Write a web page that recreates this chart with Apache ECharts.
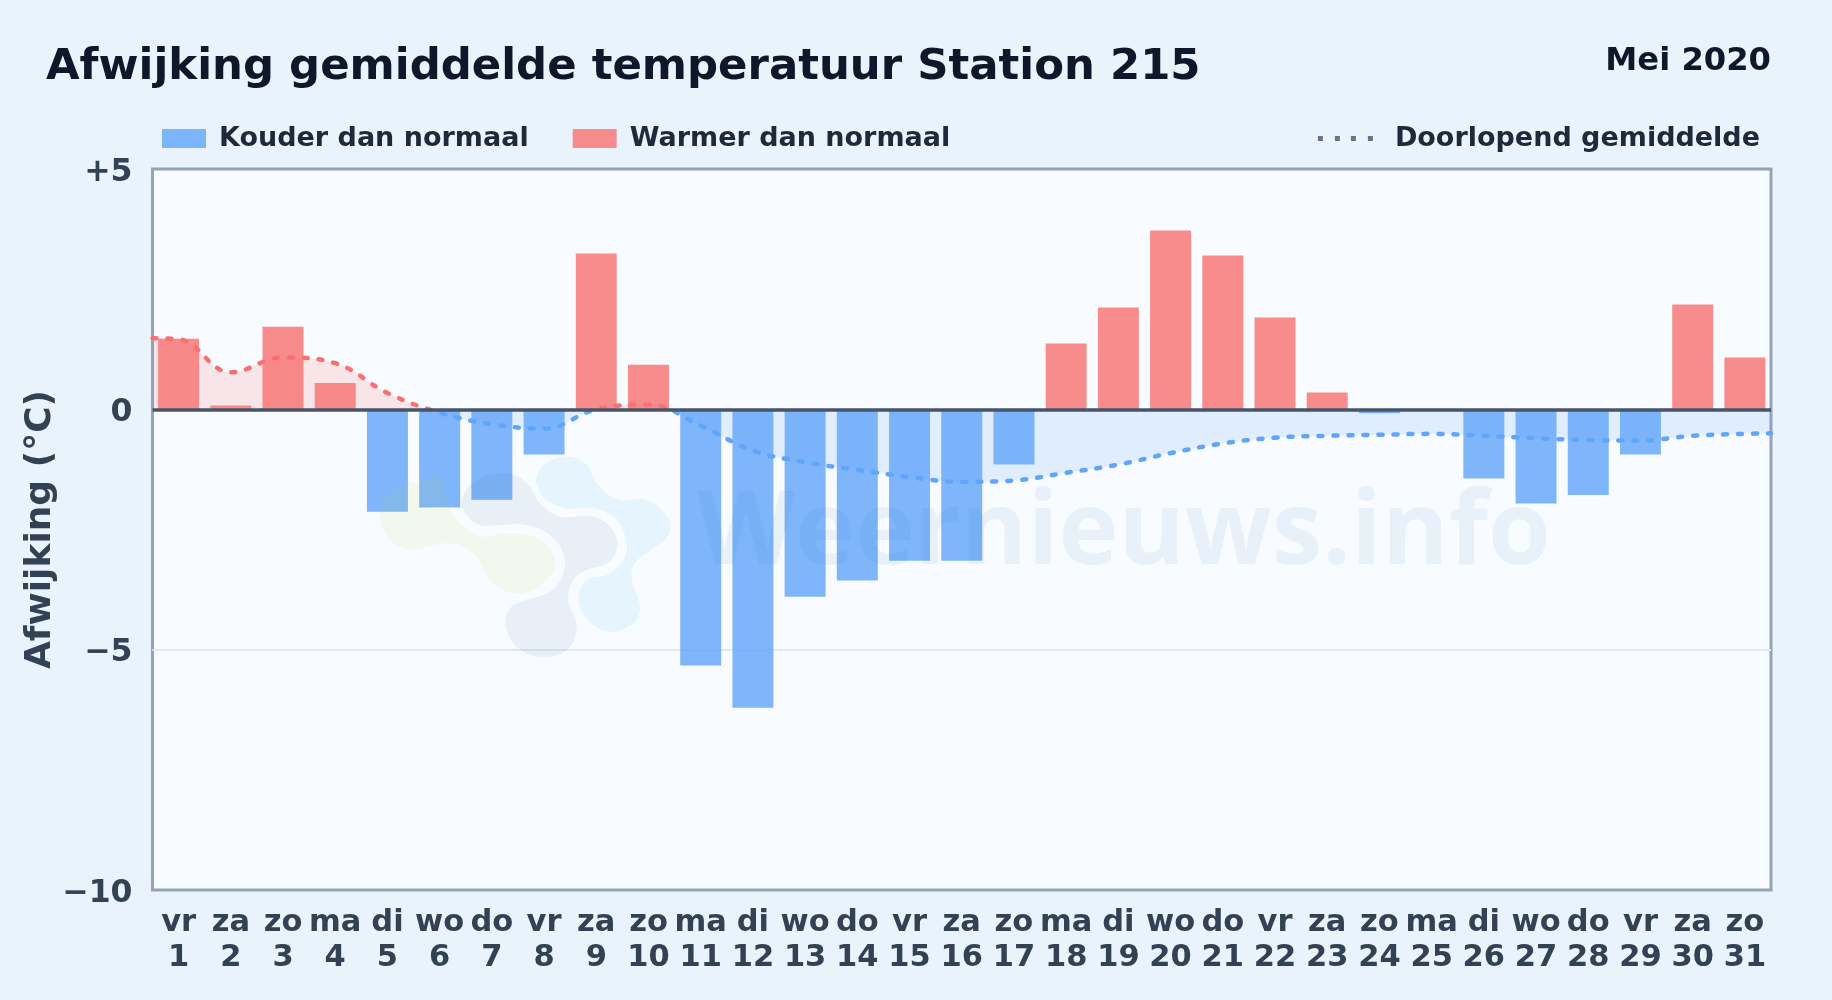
<!DOCTYPE html>
<html><head><meta charset="utf-8">
<style>html,body{margin:0;padding:0;background:#e9f3fc}#c{width:1832px;height:1000px}</style>
<script src="https://cdn.jsdelivr.net/npm/echarts@6/dist/echarts.min.js"></script>
</head><body><div id="c"></div>
<script>
const titleText = 'Afwijking gemiddelde temperatuur Station 215';
const periodText = 'Mei 2020';
const weekdays = ['vr','za','zo','ma','di','wo','do','vr','za','zo','ma','di','wo','do','vr','za','zo','ma','di','wo','do','vr','za','zo','ma','di','wo','do','vr','za','zo'];
const days = [1,2,3,4,5,6,7,8,9,10,11,12,13,14,15,16,17,18,19,20,21,22,23,24,25,26,27,28,29,30,31];
const deviation = [1.47,0.08,1.72,0.55,-2.13,-2.04,-1.88,-0.94,3.24,0.93,-5.33,-6.21,-3.90,-3.56,-3.15,-3.15,-1.15,1.37,2.12,3.72,3.20,1.91,0.35,-0.08,0,-1.44,-1.96,-1.78,-0.94,2.18,1.08];
const runningMean = [1.46,0.77,1.08,0.96,0.34,-0.07,-0.31,-0.40,0.00,0.10,-0.34,-0.86,-1.10,-1.26,-1.41,-1.51,-1.48,-1.32,-1.15,-0.91,-0.71,-0.59,-0.55,-0.53,-0.51,-0.55,-0.60,-0.64,-0.65,-0.55,-0.51];
const runningStart = 1.48, runningEnd = -0.50;
const yTicks = {'5':'+5','0':'0','-5':'−5','-10':'−10'};

const blobOlive = [[60,240],[130,325],[270,310],[340,340],[400,430],[480,460],[570,410],[582,350],[530,295],[440,280],[370,290],[300,250],[262,190],[240,110],[180,125],[100,150]];
const blobSlate = [[305,180],[350,120],[440,100],[500,130],[540,190],[600,230],[690,228],[750,260],[772,320],[740,370],[680,390],[640,420],[625,480],[650,560],[620,630],[540,650],[470,620],[438,560],[450,505],[500,480],[570,455],[610,400],[610,340],[570,285],[500,255],[420,255],[360,255],[320,225]];
const blobSky = [[530,110],[565,65],[630,50],[680,75],[710,130],[770,178],[860,180],[925,235],[925,285],[880,325],[825,370],[815,420],[840,500],[820,550],[755,575],[690,545],[655,480],[680,420],[740,405],[790,360],[800,310],[770,240],[700,205],[620,205],[560,180],[535,145]];

const FONT = '"DejaVu Sans"';
const chart = echarts.init(document.getElementById('c'));
const linePoints = [[0,runningStart]].concat(runningMean.map((v,i)=>[days[i]-0.5,v]),[[days.length,runningEnd]]);
const blob = (pts,fill)=>({type:'polygon',x:360,y:440,scaleX:1/3,scaleY:1/3,z:10,silent:true,shape:{points:pts,smooth:0.4},style:{fill:fill}});
chart.setOption({
  animation:false,
  backgroundColor:'#e9f3fc',
  textStyle:{fontFamily:FONT},
  title:[
    {text:titleText,left:46,top:46,padding:0,textStyle:{fontFamily:FONT,fontSize:43.4,fontWeight:'bold',color:'#0f172a'}},
    {text:periodText,right:61,top:46,padding:0,textStyle:{fontFamily:FONT,fontSize:32.2,fontWeight:'bold',color:'#0f172a'}}
  ],
  legend:[
    {left:162,top:125,padding:0,itemWidth:44,itemHeight:19,itemGap:44,icon:'rect',selectedMode:false,
     data:['Kouder dan normaal','Warmer dan normaal'],
     textStyle:{fontFamily:FONT,fontSize:27,fontWeight:'bold',color:'#1e293b',padding:[0,0,0,8]}},
    {right:72,top:125,padding:0,itemWidth:55,itemHeight:5,selectedMode:false,
     data:[{name:'Doorlopend gemiddelde',icon:'path://M0 0H5V5H0ZM17 0H22V5H17ZM33 0H38V5H33ZM50 0H55V5H50Z',itemStyle:{color:'#64748b'}}],
     textStyle:{fontFamily:FONT,fontSize:27,fontWeight:'bold',color:'#1e293b',padding:[0,0,0,17]}}
  ],
  grid:{left:152.5,right:61,top:169,bottom:110,show:true,backgroundColor:'#f8fbff',borderColor:'#94a3b8',borderWidth:3,containLabel:false},
  xAxis:[
    {type:'category',data:days.map((d,i)=>weekdays[i]+'\n'+d),position:'bottom',
     axisLine:{show:false},axisTick:{show:false},splitLine:{show:false},
     axisLabel:{interval:0,margin:16,fontFamily:FONT,fontSize:30.5,fontWeight:'bold',color:'#334155',lineHeight:34.5}},
    {type:'value',min:0,max:days.length,show:false,splitLine:{show:false}}
  ],
  yAxis:{type:'value',min:-10,max:5,interval:5,
    name:'Afwijking (°C)',nameLocation:'middle',nameGap:94,nameRotate:90,nameMoveOverlap:false,
    nameTextStyle:{fontFamily:FONT,fontSize:36,fontWeight:'bold',color:'#334155'},
    axisLine:{show:false},axisTick:{show:false},
    splitLine:{show:true,showMinLine:false,showMaxLine:false,lineStyle:{color:'#e2e8f0',width:2}},
    axisLabel:{margin:20,fontFamily:FONT,fontSize:31.5,fontWeight:'bold',color:'#334155',
      formatter:v=>'{t|'+yTicks[String(v)]+'}',
      rich:{t:{fontFamily:FONT,fontSize:31.5,fontWeight:'bold',color:'#334155',padding:[7,0,0,0]}}}},
  visualMap:{show:false,type:'piecewise',seriesIndex:2,dimension:1,pieces:[{gt:0,lte:5,color:'#f87171'},{gte:-10,lte:0,color:'#60a5fa'}]},
  graphic:[
    blob(blobOlive,'rgba(190,200,40,0.08)'),blob(blobSky,'rgba(14,165,233,0.08)'),blob(blobSlate,'rgba(30,80,130,0.07)'),
    {type:'text',x:697,y:586,z:10,silent:true,style:{text:'Weernieuws.info',font:'700 101.4px "Open Sans"',fill:'rgba(30,100,170,0.07)',textVerticalAlign:'bottom'}}
  ],
  series:[
    {name:'Kouder dan normaal',type:'bar',barGap:'-100%',barCategoryGap:'21.5%',z:3,
     data:deviation.map(v=>v<0?v:null),itemStyle:{color:'rgba(96,165,250,0.8)'},
     markLine:{silent:true,symbol:'none',label:{show:false},z:6,data:[{yAxis:0}],lineStyle:{color:'#475569',width:3.6,type:'solid'}}},
    {name:'Warmer dan normaal',type:'bar',z:3,
     data:deviation.map(v=>v>0?v:null),itemStyle:{color:'rgba(248,113,113,0.8)'}},
    {name:'Doorlopend gemiddelde',type:'line',xAxisIndex:1,z:5,smooth:0.4,symbol:'none',
     data:linePoints,
     lineStyle:{width:4.5,type:[4,11],cap:'round'},
     areaStyle:{opacity:0.16}}
  ]
});
</script></body></html>
